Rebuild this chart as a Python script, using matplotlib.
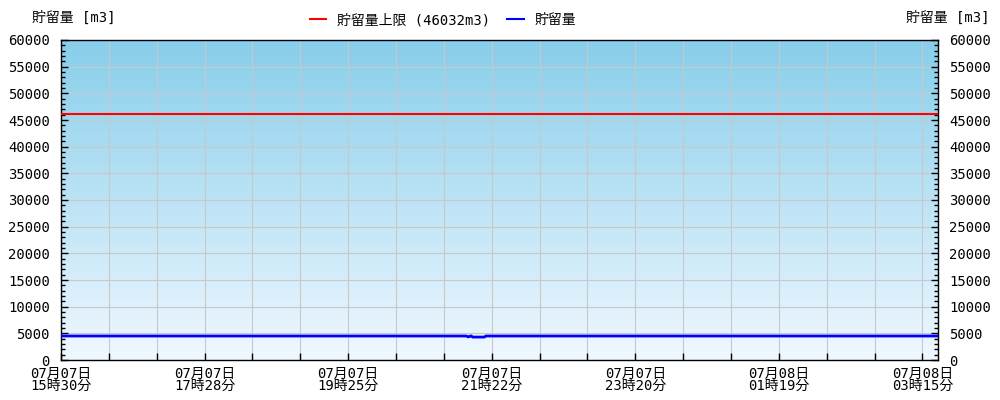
import numpy as np
import matplotlib
matplotlib.use("Agg")
import matplotlib.pyplot as plt
from matplotlib.lines import Line2D

plt.rcParams["font.family"] = ["DejaVu Sans Mono", "Noto Sans CJK JP"]
plt.rcParams["font.size"] = 10

# 貯留量 (1分毎の点, ランレングスで保持)
level_values = [4500, 4350, 4500, 4300, 4500]
level_counts = [340, 2, 2, 11, 378]
upper_limit = 46032

tick_labels = [
    "07月07日\n15時30分",
    "07月07日\n17時28分",
    "07月07日\n19時25分",
    "07月07日\n21時22分",
    "07月07日\n23時20分",
    "07月08日\n01時19分",
    "07月08日\n03時15分",
]
label_every = 120
minor_every = 40

storage = np.repeat(level_values, level_counts)
n = len(storage)
x = np.arange(n)

fig = plt.figure(figsize=(10, 4), dpi=100)
ax = fig.add_axes([0.061, 0.1, 0.877, 0.8])

# 背景グラデーション
top = np.array([135, 206, 235]) / 255
bottom = np.array([240, 248, 255]) / 255
t = np.linspace(0, 1, 256)[:, None]
grad = (top * (1 - t) + bottom * t)[:, None, :]
ax.imshow(grad, extent=[0, 1, 0, 1], transform=ax.transAxes, aspect="auto", zorder=0)

ax.plot(x, storage, color="#0000ff", lw=2, zorder=3)
ax.axhline(upper_limit, color="#ff0000", lw=1.5, zorder=3)

ax.set_xlim(0, n)
ax.set_ylim(0, 60000)
ax.set_yticks(np.arange(0, 60001, 5000))
ax.set_yticks(np.arange(0, 60001, 1000), minor=True)
ticks = np.arange(0, n, minor_every)
ax.set_xticks(ticks)
ax.set_xticklabels([tick_labels[t // label_every] if t % label_every == 0 else "" for t in ticks],
                   linespacing=0.85)
ax.set_axisbelow(True)
ax.grid(True, color="#c8c8c8", lw=0.8)

ax.tick_params(axis="both", which="major", direction="in", length=5, width=1,
               right=True, labelright=True)
ax.tick_params(axis="y", which="major", pad=8)
ax.tick_params(axis="y", which="minor", direction="in", length=3, width=1, right=True)
ax.tick_params(axis="x", pad=5)
for s in ax.spines.values():
    s.set_linewidth(1)

fig.text(0.032, 0.955, "貯留量 [m3]", ha="left", va="center")
fig.text(0.99, 0.955, "貯留量 [m3]", ha="right", va="center")

handles = [Line2D([], [], color="#ff0000", lw=1.5),
           Line2D([], [], color="#0000ff", lw=1.5)]
fig.legend(handles, [f"貯留量上限 ({upper_limit}m3)", "貯留量"], loc="center",
           bbox_to_anchor=(0.443, 0.95), ncol=2, frameon=False, handlelength=1.2,
           columnspacing=1.2, handletextpad=0.8)

fig.savefig("out.png", dpi=100)
